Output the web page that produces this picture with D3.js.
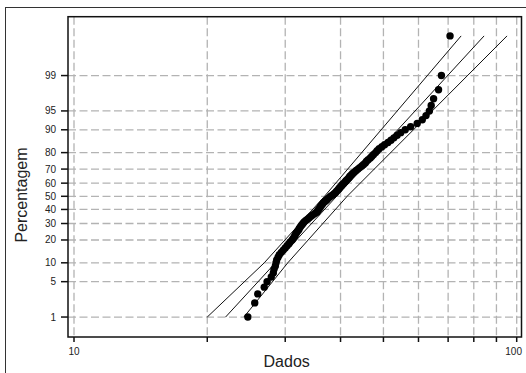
<!DOCTYPE html>
<html>
<head>
<meta charset="utf-8">
<script src="https://cdn.jsdelivr.net/npm/d3@7"></script>
<style>
  body { margin: 0; background: #fff; }
  text { font-family: "Liberation Sans", Arial, sans-serif; fill: #222; }
  .grid line { stroke: #b3b3b3; stroke-width: 1.3; stroke-dasharray: 8,3.5; }
</style>
</head>
<body>
<div id="chart"></div>
<script>
// values
var dados = [24.7, 25.6, 26.0, 26.9, 27.3, 27.9, 28.2, 28.3, 28.5, 28.6,
             28.7, 28.9, 29.1, 29.4, 29.7, 30.0, 30.3, 30.6, 30.8, 31.1,
             31.3, 31.5, 31.6, 31.8, 32.0, 32.2, 32.3, 32.5, 32.7, 32.9,
             33.1, 33.4, 33.7, 34.0, 34.3, 34.6, 35.0, 35.4, 35.5, 35.7,
             35.9, 36.0, 36.2, 36.4, 36.6, 36.9, 37.2, 37.4, 37.7, 38.0,
             38.4, 38.7, 39.0, 39.2, 39.5, 39.7, 39.9, 40.2, 40.4, 40.7,
             41.0, 41.2, 41.5, 41.8, 42.0, 42.3, 42.6, 43.0, 43.4, 43.8,
             44.2, 44.7, 45.1, 45.5, 45.8, 46.2, 46.7, 47.1, 47.5, 48.0,
             48.4, 48.9, 49.6, 50.3, 51.2, 52.0, 52.8, 53.7, 54.7, 56.0,
             57.6, 59.6, 61.2, 62.4, 63.5, 64.1, 64.9, 66.6, 67.6, 70.7];
var percentagem = [1, 2, 3, 4, 5, 6, 7, 8, 9, 10,
                   11, 12, 13, 14, 15, 16, 17, 18, 19, 20,
                   21, 22, 23, 24, 25, 26, 27, 28, 29, 30,
                   31, 32, 33, 34, 35, 36, 37, 38, 39, 40,
                   41, 42, 43, 44, 45, 46, 47, 48, 49, 50,
                   51, 52, 53, 54, 55, 56, 57, 58, 59, 60,
                   61, 62, 63, 64, 65, 66, 67, 68, 69, 70,
                   71, 72, 73, 74, 75, 76, 77, 78, 79, 80,
                   81, 82, 83, 84, 85, 86, 87, 88, 89, 90,
                   91, 92, 93, 94, 95, 96, 97, 98, 99, 99.9];

// fitted line and confidence band
var fitDados = [22.0, 84.4];
var fitPct = [1, 99.9];
var bandEsqDados = [20.0, 26.9, 36.8, 74.9];
var bandEsqPct = [1, 10, 50, 99.9];
var bandDirDados = [24.2, 30.4, 41.4, 95.1];
var bandDirPct = [1, 10, 50, 99.9];

var yTicks = [1, 5, 10, 20, 30, 40, 50, 60, 70, 80, 90, 95, 99];
var xTicks = [10, 20, 30, 40, 50, 60, 70, 80, 90, 100];
var xLabels = [10, 100];

var W = 526, H = 373;
var box = {left: 68, right: 521.5, top: 16.7, bottom: 337};

// inverse normal cdf (Acklam)
function probit(p) {
  var a = [-39.69683028665376, 220.9460984245205, -275.9285104469687, 138.3577518672690, -30.66479806614716, 2.506628277459239];
  var b = [-54.47609879822406, 161.5858368580409, -155.6989798598866, 66.80131188771972, -13.28068155288572];
  var c = [-0.007784894002430293, -0.3223964580411365, -2.400758277161838, -2.549732539343734, 4.374664141464968, 2.938163982698783];
  var d = [0.007784695709041462, 0.3224671290700398, 2.445134137142996, 3.754408661907416];
  var q, r;
  if (p < 0.02425) {
    q = Math.sqrt(-2 * Math.log(p));
    return (((((c[0]*q+c[1])*q+c[2])*q+c[3])*q+c[4])*q+c[5]) / ((((d[0]*q+d[1])*q+d[2])*q+d[3])*q+1);
  }
  if (p > 1 - 0.02425) {
    q = Math.sqrt(-2 * Math.log(1 - p));
    return -(((((c[0]*q+c[1])*q+c[2])*q+c[3])*q+c[4])*q+c[5]) / ((((d[0]*q+d[1])*q+d[2])*q+d[3])*q+1);
  }
  q = p - 0.5; r = q * q;
  return (((((a[0]*r+a[1])*r+a[2])*r+a[3])*r+a[4])*r+a[5])*q / (((((b[0]*r+b[1])*r+b[2])*r+b[3])*r+b[4])*r+1);
}

var x = d3.scaleLog().domain([10, 100]).range([74, 516.7]);
var yz = d3.scaleLinear().domain([0, 1]).range([196.3, 144.4]);
var y = function(p) { return yz(probit(p / 100)); };

var svg = d3.select("#chart").append("svg").attr("width", W).attr("height", H);

// outer frame
svg.append("rect").attr("x", 5.5).attr("y", 7.5).attr("width", 530).attr("height", 380)
  .attr("fill", "none").attr("stroke", "#333").attr("stroke-width", 1);

var grid = svg.append("g").attr("class", "grid");
grid.selectAll(".gx").data(xTicks).enter().append("line")
  .attr("x1", function(d) { return x(d); }).attr("x2", function(d) { return x(d); })
  .attr("y1", box.top).attr("y2", box.bottom);
grid.selectAll(".gy").data(yTicks).enter().append("line")
  .attr("x1", box.left).attr("x2", box.right)
  .attr("y1", function(d) { return y(d); }).attr("y2", function(d) { return y(d); });

// ticks
svg.selectAll(".ty").data(yTicks).enter().append("line")
  .attr("x1", box.left - 7).attr("x2", box.left)
  .attr("y1", function(d) { return y(d); }).attr("y2", function(d) { return y(d); })
  .attr("stroke", "#111").attr("stroke-width", 1.5);
svg.selectAll(".tx").data(xTicks).enter().append("line")
  .attr("x1", function(d) { return x(d); }).attr("x2", function(d) { return x(d); })
  .attr("y1", box.bottom).attr("y2", box.bottom + 5)
  .attr("stroke", "#111").attr("stroke-width", 1.5);

svg.selectAll(".ly").data(yTicks).enter().append("text")
  .attr("x", 56).attr("y", function(d) { return y(d); })
  .attr("dy", "0.35em").attr("text-anchor", "end")
  .style("font-size", "10px").text(function(d) { return d; });
svg.selectAll(".lx").data(xLabels).enter().append("text")
  .attr("x", function(d) { return d === 100 ? 522 : x(d); }).attr("y", 355)
  .attr("text-anchor", function(d) { return d === 100 ? "end" : "middle"; })
  .style("font-size", "10px").text(function(d) { return d; });

// lines
var line = d3.line().x(function(d) { return x(d[0]); }).y(function(d) { return y(d[1]); });
[[fitDados, fitPct], [bandEsqDados, bandEsqPct], [bandDirDados, bandDirPct]].forEach(function(s) {
  svg.append("path").datum(d3.zip(s[0], s[1])).attr("d", line)
    .attr("fill", "none").attr("stroke", "#111").attr("stroke-width", 1);
});

// points
svg.selectAll(".pt").data(d3.zip(dados, percentagem)).enter().append("circle")
  .attr("cx", function(d) { return x(d[0]); })
  .attr("cy", function(d) { return y(d[1]); })
  .attr("r", 3.7).attr("fill", "#000");

// plot box
svg.append("rect").attr("x", box.left).attr("y", box.top)
  .attr("width", box.right - box.left).attr("height", box.bottom - box.top)
  .attr("fill", "none").attr("stroke", "#111").attr("stroke-width", 1.5);

svg.append("text").attr("x", 286.7).attr("y", 367).attr("text-anchor", "middle")
  .style("font-size", "16px").text("Dados");
svg.append("text").attr("transform", "translate(27,195) rotate(-90)").attr("text-anchor", "middle")
  .style("font-size", "16px").text("Percentagem");
</script>
</body>
</html>
